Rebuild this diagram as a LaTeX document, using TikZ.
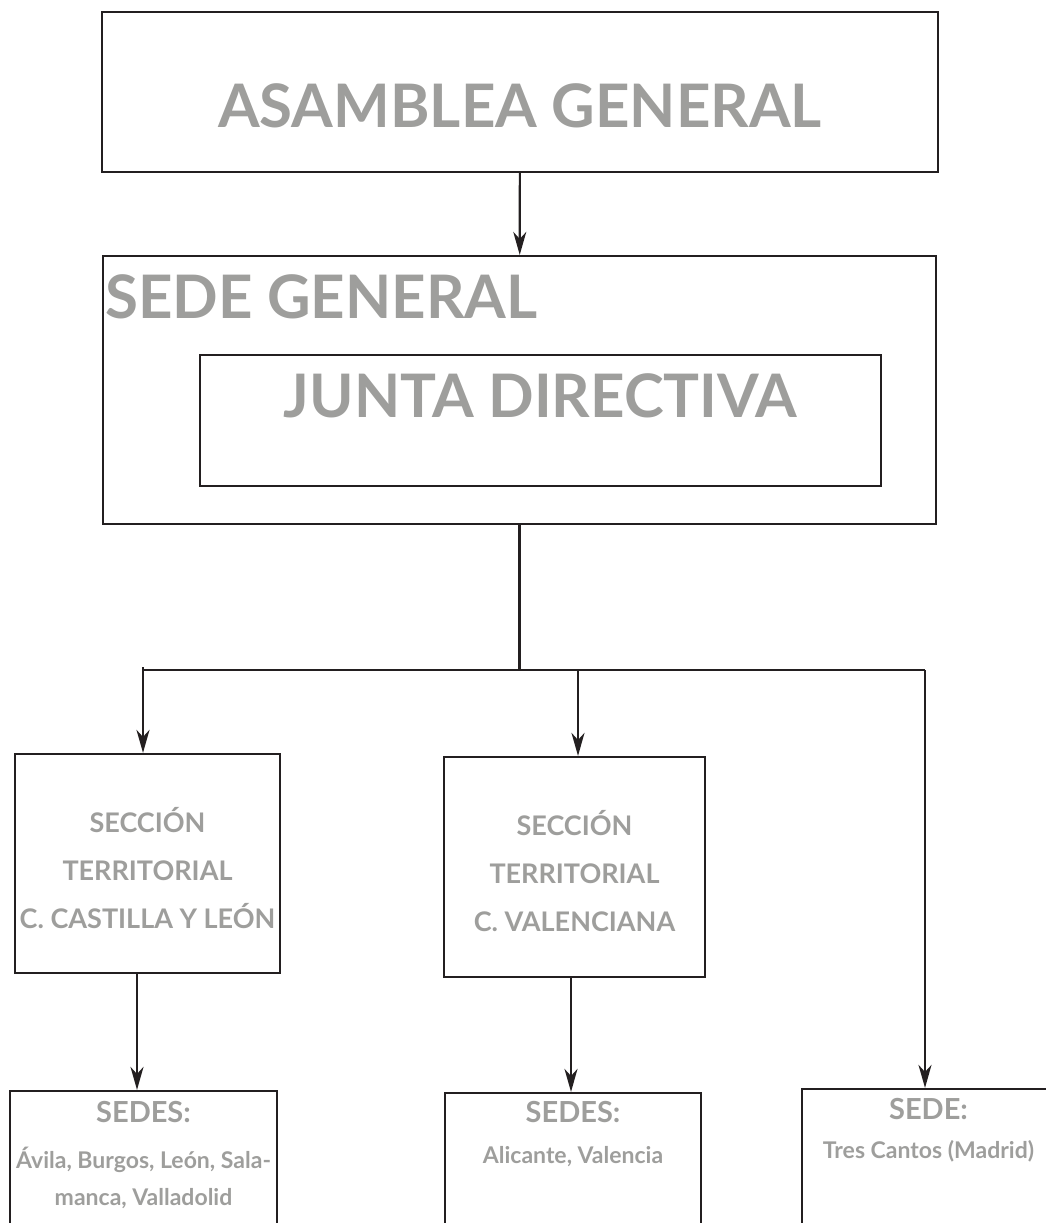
\documentclass[tikz,border=0pt]{standalone}
\usepackage{fontspec}
\setmainfont{Lato}
\usepackage{tikz}
\usetikzlibrary{positioning,arrows.meta}
\definecolor{linec}{HTML}{231F20}
\definecolor{txtgray}{HTML}{9E9E9C}
\tikzset{
  box/.style={rectangle, draw=linec, line width=2.2pt, inner sep=0pt},
  title/.style={text=txtgray, font=\bfseries\fontsize{60}{60}\selectfont, inner sep=0pt},
  sect/.style={text=txtgray, font=\bfseries\fontsize{27}{48}\selectfont, align=center, inner sep=0pt},
  sedehead/.style={text=txtgray, font=\bfseries\fontsize{29}{29}\selectfont, inner sep=0pt},
  sedelist/.style={text=txtgray, font=\bfseries\fontsize{23}{37}\selectfont, align=center, inner sep=0pt},
  link/.style={line width=2.2pt, draw=linec},
  arr/.style={-{Stealth[length=23pt, width=13pt, inset=7pt]}, line width=2.2pt, draw=linec},
}
\begin{document}
\begin{tikzpicture}[x=1pt, y=-1pt]
  \useasboundingbox (0,0) rectangle (1045,1223);
  % boxes
  \node[box, minimum width=836pt, minimum height=160pt] (ag) at (520,92) {};
  \node[box, minimum width=833pt, minimum height=268pt] (sg) at (519.5,390) {};
  \node[box, minimum width=681pt, minimum height=131pt] (jd) at (540.5,420.5) {};
  \node[box, minimum width=265pt, minimum height=219pt] (cyl) at (147.5,863.5) {};
  \node[box, minimum width=261pt, minimum height=220pt] (val) at (574.5,867) {};
  \node[box, minimum width=267pt, minimum height=170pt] (sedA) at (143.5,1176) {};
  \node[box, minimum width=256pt, minimum height=170pt] (sedB) at (573,1178) {};
  \node[box, minimum width=253pt, minimum height=170pt] (sedC) at (928.5,1174) {};
  % texts (base = last line)
  \node[title, anchor=base] (agt) at ([yshift=-117pt]ag.north) {ASAMBLEA GENERAL};
  \node[title, anchor=base west] (sgt) at ([xshift=3pt, yshift=-64pt]sg.north west) {SEDE GENERAL};
  \node[title, anchor=base] (jdt) at ([yshift=-64pt]jd.north) {JUNTA DIRECTIVA};
  \node[sect, anchor=base] (cylt) at ([yshift=-176pt]cyl.north) {SECCIÓN\\TERRITORIAL\\C. CASTILLA Y LEÓN};
  \node[sect, anchor=base] (valt) at ([yshift=-176pt]val.north) {SECCIÓN\\TERRITORIAL\\C. VALENCIANA};
  \node[sedehead, anchor=base] (sedAh) at ([yshift=-33pt]sedA.north) {SEDES:};
  \node[sedelist, anchor=base] (sedAl) at ([yshift=-116pt]sedA.north) {Ávila, Burgos, León, Sala-\\manca, Valladolid};
  \node[sedehead, anchor=base] (sedBh) at ([yshift=-31pt]sedB.north) {SEDES:};
  \node[sedelist, anchor=base] (sedBl) at ([yshift=-72pt]sedB.north) {Alicante, Valencia};
  \node[sedehead, anchor=base] (sedCh) at ([yshift=-32pt]sedC.north) {SEDE:};
  \node[sedelist, anchor=base] (sedCl) at ([yshift=-71pt]sedC.north) {Tres Cantos (Madrid)};
  % connectors
  \coordinate (bL) at (143,670);
  \coordinate (bM) at (578,670);
  \coordinate (bR) at (925,670);
  \coordinate (dA) at (137,973);
  \coordinate (dB) at (571,977);
  \draw[arr] (ag) -- (sg);
  \draw[link] (sg.south) -- (sg.south |- bL);
  \draw[link] (bL) -- (bR);
  \draw[arr] ([yshift=3pt]bL) -- (bL |- cyl.north);
  \draw[arr] (bM) -- (bM |- val.north);
  \draw[arr] (bR) -- (bR |- sedC.north);
  \draw[arr] (dA |- cyl.south) -- (dA |- sedA.north);
  \draw[arr] (dB |- val.south) -- (dB |- sedB.north);
\end{tikzpicture}
\end{document}
